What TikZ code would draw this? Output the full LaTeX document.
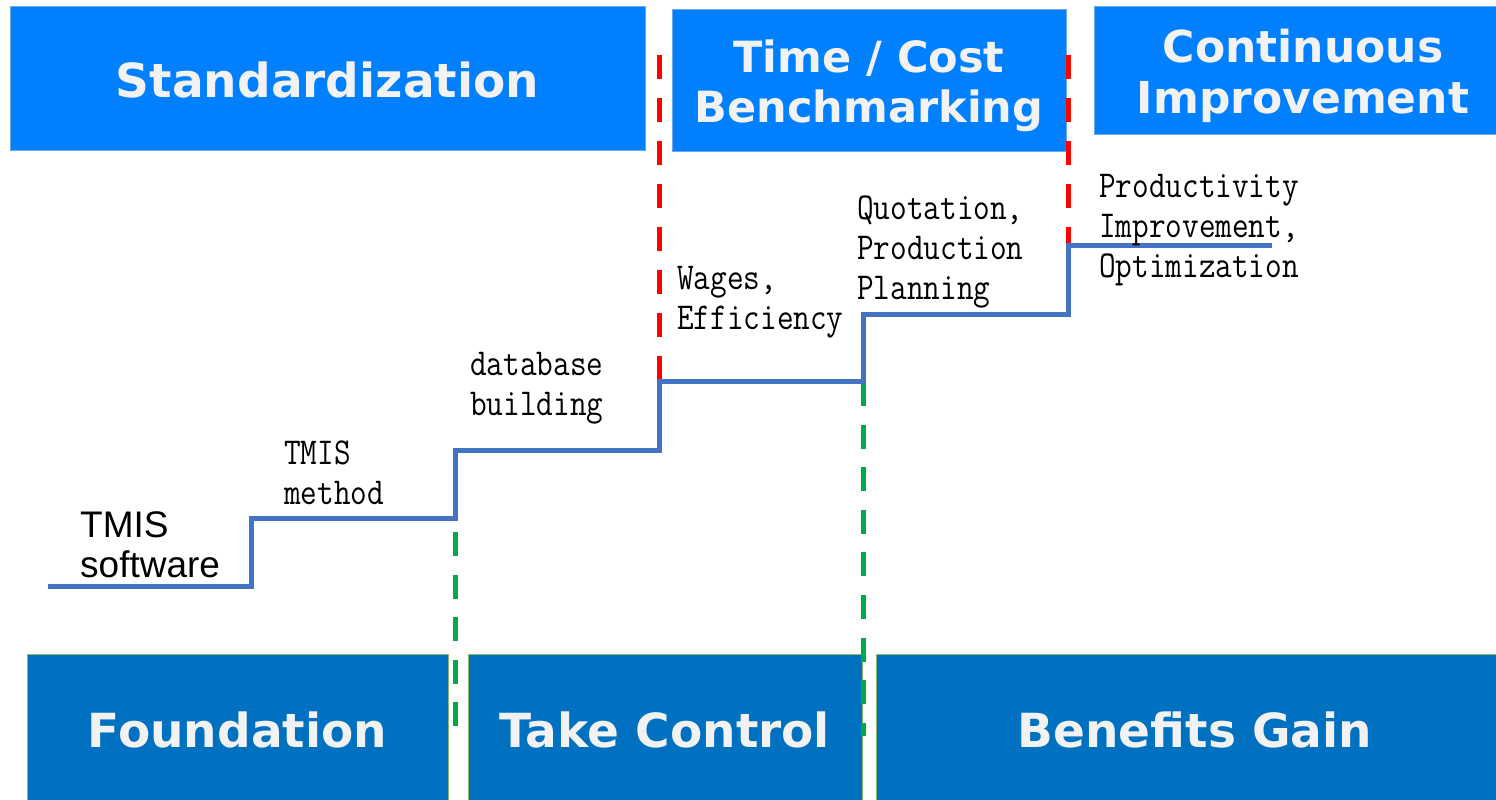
\documentclass[tikz,border=0pt]{standalone}
\usepackage{fontspec}
\usepackage{graphicx}
\newfontfamily\boxfont{DejaVu Sans}
\newfontfamily\swfont{Liberation Sans}
\definecolor{topblue}{HTML}{0080FF}
\definecolor{topedge}{HTML}{6FA8E8}
\definecolor{botblue}{HTML}{0070C0}
\definecolor{botedge}{HTML}{8DB86A}
\definecolor{stair}{HTML}{4472C4}
\definecolor{dred}{HTML}{FF0000}
\definecolor{dgreen}{HTML}{00A84A}
\definecolor{txtw}{HTML}{F2F2F2}
\newcommand{\lab}[1]{\scalebox{0.85}[1]{\begin{tabular}[t]{@{}l@{}}#1\end{tabular}}}
\tikzset{
  topbox/.style={draw=topedge, line width=1pt, fill=topblue},
  botbox/.style={draw=botedge, line width=1pt, fill=botblue},
  boxtext/.style={text=txtw, font=\boxfont\bfseries, align=center, inner sep=0pt},
  lbl/.style={anchor=base west, inner sep=0pt, font=\ttfamily\fontsize{38}{40}\selectfont},
  stairline/.style={draw=stair, line width=5pt, line cap=butt, line join=miter},
  reddash/.style={draw=dred, line width=5pt, dash pattern=on 24pt off 19pt},
  greendash/.style={draw=dgreen, line width=5pt, dash pattern=on 24pt off 18.6pt}
}
\begin{document}
\begin{tikzpicture}[x=1pt,y=-1pt]
\useasboundingbox (0,0) rectangle (1496,800);
\fill[white] (0,0) rectangle (1496,800);
% top boxes
\path[topbox] (10,7) rectangle (645,150);
\path[topbox] (672,10) rectangle (1066,151);
\path[topbox] (1094,7) rectangle (1496,134);
\node[boxtext, font=\boxfont\bfseries\fontsize{47}{50}\selectfont] (std) at (327.5,80) {Standardization};
\node[boxtext, font=\boxfont\bfseries\fontsize{43}{50}\selectfont] (tcb) at (869,86) {Time / Cost\\Benchmarking};
\node[boxtext, font=\boxfont\bfseries\fontsize{44}{51}\selectfont] (ci) at (1303,76) {Continuous\\Improvement};
% bottom boxes
\path[botbox] (27,654) rectangle (448,802);
\path[botbox] (468,654) rectangle (862,802);
\path[botbox] (876,654) rectangle (1498,802);
\node[boxtext, font=\boxfont\bfseries\fontsize{47}{50}\selectfont] (fd) at (237.5,730) {Foundation};
\node[boxtext, font=\boxfont\bfseries\fontsize{47}{50}\selectfont] (tc) at (665,730) {Take Control};
\node[boxtext, font=\boxfont\bfseries\fontsize{47}{50}\selectfont] (bg) at (1195,730) {Benefits Gain};
% dashed separators
\coordinate (r1a) at (659,55); \coordinate (r1b) at (659,381);
\coordinate (r2a) at (1068,55); \coordinate (r2b) at (1068,245);
\coordinate (g1a) at (455,532); \coordinate (g1b) at (455,726);
\coordinate (g2a) at (863,382); \coordinate (g2b) at (863,736);
\draw[reddash] (r1a) -- (r1b);
\draw[reddash] (r2a) -- (r2b);
\draw[greendash] (g1a) -- (g1b);
\draw[greendash] (g2a) -- (g2b);
% staircase
\coordinate (s0) at (48,586);
\coordinate (s1) at (251,586);
\coordinate (s2) at (251,518);
\coordinate (s3) at (455,518);
\coordinate (s4) at (455,450);
\coordinate (s5) at (659,450);
\coordinate (s6) at (659,381);
\coordinate (s7) at (863,381);
\coordinate (s8) at (863,314);
\coordinate (s9) at (1068,314);
\coordinate (s10) at (1068,245);
\coordinate (s11) at (1272,245);
\draw[stairline] (s0) -- (s1) -- (s2) -- (s3) -- (s4) -- (s5) -- (s6) -- (s7) -- (s8) -- (s9) -- (s10) -- (s11);
% labels
\node[anchor=base west, inner sep=0pt, align=left, font=\swfont\fontsize{37}{40}\selectfont] (sw) at (80,577) {TMIS\\software};
\node[lbl] (tm) at (284,464) {\lab{TMIS\\method}};
\node[lbl] (db) at (470,375) {\lab{database\\building}};
\node[lbl] (we) at (677,289) {\lab{Wages,\\Efficiency}};
\node[lbl] (qp) at (857,219) {\lab{Quotation,\\Production\\Planning}};
\node[lbl] (pi) at (1099,197) {\lab{Productivity\\Improvement,\\Optimization}};
\end{tikzpicture}
\end{document}
